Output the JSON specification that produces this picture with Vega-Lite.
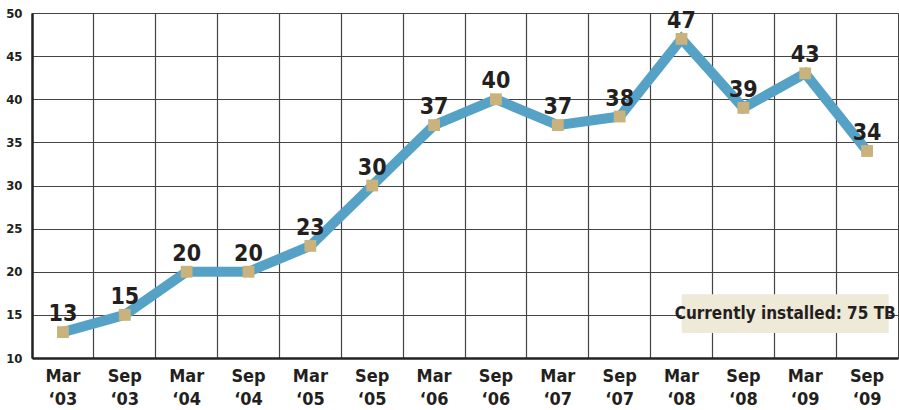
{
  "$schema": "https://vega.github.io/schema/vega-lite/v6.json",
  "width": 866,
  "height": 345,
  "autosize": {"type": "none"},
  "padding": {"left": 32, "top": 13, "right": 1, "bottom": 52},
  "background": "white",
  "config": {
    "view": {"stroke": "#444", "strokeWidth": 1},
    "font": "DejaVu Sans Condensed, DejaVu Sans, sans-serif"
  },
  "datasets": {
    "series": [
      {"period": "Mar ‘03", "tb": 13},
      {"period": "Sep ‘03", "tb": 15},
      {"period": "Mar ‘04", "tb": 20},
      {"period": "Sep ‘04", "tb": 20},
      {"period": "Mar ‘05", "tb": 23},
      {"period": "Sep ‘05", "tb": 30},
      {"period": "Mar ‘06", "tb": 37},
      {"period": "Sep ‘06", "tb": 40},
      {"period": "Mar ‘07", "tb": 37},
      {"period": "Sep ‘07", "tb": 38},
      {"period": "Mar ‘08", "tb": 47},
      {"period": "Sep ‘08", "tb": 39},
      {"period": "Mar ‘09", "tb": 43},
      {"period": "Sep ‘09", "tb": 34}
    ],
    "note": [
      {"period": "Mar ‘09", "y1": 12.9, "y2": 17.4, "ty": 15.15, "text": "Currently installed: 75 TB"}
    ]
  },
  "layer": [
    {
      "data": {"name": "series"},
      "mark": {"type": "line", "color": "#55a2c6", "strokeWidth": 10, "strokeJoin": "miter"},
      "encoding": {
        "x": {
          "field": "period", "type": "ordinal", "sort": null,
          "scale": {"type": "band", "paddingInner": 0, "paddingOuter": 0},
          "axis": {
            "title": null, "grid": true, "bandPosition": 0, "gridColor": "#444", "gridWidth": 1.2,
            "ticks": false, "domainColor": "#222", "domainWidth": 2.5,
            "labelAngle": 0, "labelExpr": "split(datum.label, ' ')",
            "labelFont": "DejaVu Sans Condensed, DejaVu Sans, sans-serif", "labelFontSize": 18, "labelFontWeight": "bold",
            "labelColor": "#231f20", "labelPadding": 9, "labelLineHeight": 23, "labelBaseline": "top"
          }
        },
        "y": {
          "field": "tb", "type": "quantitative",
          "scale": {"domain": [10, 50], "nice": false, "zero": false},
          "axis": {
            "title": null, "values": [10, 15, 20, 25, 30, 35, 40, 45, 50],
            "grid": true, "gridColor": "#444", "gridWidth": 1.2,
            "ticks": false, "domainColor": "#222", "domainWidth": 2.5,
            "labelFont": "DejaVu Sans Condensed, DejaVu Sans, sans-serif", "labelFontSize": 13, "labelFontWeight": "bold",
            "labelColor": "#231f20", "labelPadding": 10
          }
        }
      }
    },
    {
      "data": {"name": "series"},
      "mark": {"type": "point", "shape": "square", "filled": true, "color": "#c9b27c", "size": 140, "opacity": 1},
      "encoding": {
        "x": {"field": "period", "type": "ordinal", "sort": null},
        "y": {"field": "tb", "type": "quantitative"}
      }
    },
    {
      "data": {"name": "series"},
      "mark": {"type": "text", "font": "DejaVu Sans Condensed, DejaVu Sans, sans-serif", "fontWeight": "bold", "fontSize": 23, "color": "#231f20", "baseline": "alphabetic", "dy": -11},
      "encoding": {
        "x": {"field": "period", "type": "ordinal", "sort": null},
        "y": {"field": "tb", "type": "quantitative"},
        "text": {"field": "tb"}
      }
    },
    {
      "data": {"name": "note"},
      "mark": {"type": "bar", "color": "#efe9d8", "width": 207, "xOffset": -20},
      "encoding": {
        "x": {"field": "period", "type": "ordinal", "sort": null},
        "y": {"field": "y1", "type": "quantitative"},
        "y2": {"field": "y2"}
      }
    },
    {
      "data": {"name": "note"},
      "mark": {"type": "text", "font": "DejaVu Sans Condensed, DejaVu Sans, sans-serif", "fontWeight": "bold", "fontSize": 17, "color": "#231f20", "baseline": "middle", "xOffset": -20},
      "encoding": {
        "x": {"field": "period", "type": "ordinal", "sort": null},
        "y": {"field": "ty", "type": "quantitative"},
        "text": {"field": "text"}
      }
    }
  ]
}
